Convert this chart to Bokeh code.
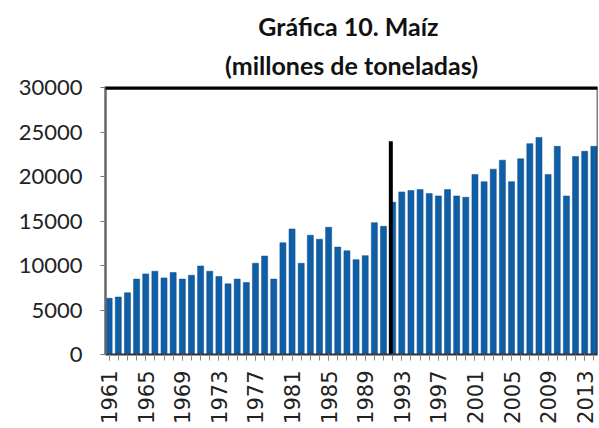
import math
from bokeh.plotting import figure
from bokeh.models import ColumnDataSource, FixedTicker, Span, Title
from bokeh.embed import file_html
from bokeh.resources import INLINE

years = list(range(1961, 2015))
production = [6320, 6470, 6950, 8480, 9070, 9370, 8620, 9220, 8480, 8920,
              9960, 9370, 8770, 7950, 8480, 8100, 10260, 11080, 8480, 12570,
              14130, 10260, 13420, 12970, 14310, 12080, 11670, 10670, 11120, 14830,
              14420, 17140, 18290, 18440, 18550, 18100, 17840, 18550, 17840, 17690,
              20260, 19440, 20850, 21860, 19440, 22010, 23720, 24420, 20260, 23420,
              17840, 22270, 22860, 23420]
label_years = list(range(1961, 2015, 4))
y_ticks = [0, 5000, 10000, 15000, 20000, 25000, 30000]
title_lines = ["Gráfica  10. Maíz", "(millones de toneladas)"]
break_year = 1991.8
break_top = 24000

src = ColumnDataSource(dict(x=years, y=production))

p = figure(width=598, height=426, output_backend="svg", toolbar_location=None,
           x_range=(1960.6, 2014.4), y_range=(0, 30150),
           min_border_left=105, min_border_right=1, min_border_top=86, min_border_bottom=71)

p.title = None
p.add_layout(Title(text=title_lines[1], align="center", offset=7, text_font="Lato",
                   text_font_size="25px", text_font_style="bold", text_color="#111111",
                   standoff=14), "above")
p.add_layout(Title(text=title_lines[0], align="center", offset=7, text_font="Lato",
                   text_font_size="25px", text_font_style="bold", text_color="#111111",
                   standoff=0), "above")

p.vbar(x="x", top="y", width=0.66, source=src, fill_color="#0f5fa8",
       line_color="#0a4a86", line_width=0.5)

p.segment(x0=[break_year], y0=[0], x1=[break_year], y1=[break_top],
          line_color="black", line_width=4)

p.add_layout(Span(location=30000, dimension="width", line_color="black", line_width=4))
p.add_layout(Span(location=2014.4, dimension="height", line_color="black", line_width=1.5))

p.xgrid.visible = False
p.ygrid.visible = False
p.outline_line_color = None

p.yaxis.ticker = FixedTicker(ticks=y_ticks)
p.yaxis.major_label_text_font = "Lato"
p.yaxis.major_label_text_font_size = "22px"
p.yaxis.major_label_text_color = "#222222"
p.yaxis.major_label_standoff = 18
p.yaxis.axis_line_color = "#666666"
p.yaxis.axis_line_width = 2.5
p.yaxis.major_tick_line_color = "#777777"
p.yaxis.major_tick_out = 5
p.yaxis.major_tick_in = 0
p.yaxis.minor_tick_line_color = None

p.xaxis.ticker = FixedTicker(ticks=label_years, minor_ticks=years)
p.xaxis.major_label_orientation = math.pi / 2
p.xaxis.major_label_text_font = "DejaVu Sans"
p.xaxis.major_label_text_font_size = "21px"
p.xaxis.major_label_text_color = "#222222"
p.xaxis.major_label_standoff = 10
p.xaxis.axis_line_color = "#333333"
p.xaxis.axis_line_width = 2
p.xaxis.major_tick_line_color = "#888888"
p.xaxis.major_tick_out = 6
p.xaxis.major_tick_in = 0
p.xaxis.minor_tick_line_color = "#888888"
p.xaxis.minor_tick_out = 6
p.xaxis.minor_tick_in = 0

open("out.html", "w").write(file_html(p, INLINE))
